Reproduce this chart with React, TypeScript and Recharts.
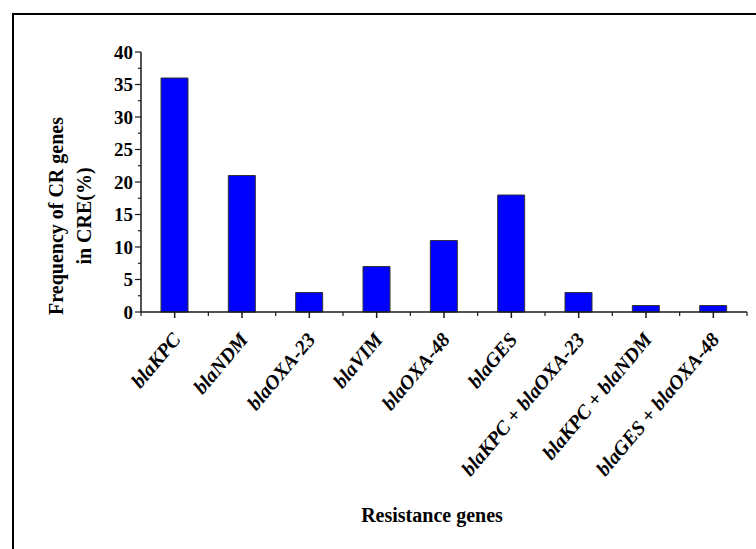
import { BarChart, Bar, XAxis, YAxis } from "recharts";

const genes = [
  "blaKPC",
  "blaNDM",
  "blaOXA-23",
  "blaVIM",
  "blaOXA-48",
  "blaGES",
  "blaKPC + blaOXA-23",
  "blaKPC + blaNDM",
  "blaGES + blaOXA-48",
];
const frequency = [36, 21, 3, 7, 11, 18, 3, 1, 1];
const yTicks = [0, 2.5, 5, 7.5, 10, 12.5, 15, 17.5, 20, 22.5, 25, 27.5, 30, 32.5, 35, 37.5, 40];

const data = genes.map((gene, i) => ({ gene, value: frequency[i] }));

const FONT = '"Liberation Serif", "Times New Roman", serif';
const INK = "#1a1a1a";

function GeneTick(props: any) {
  const { x, y, payload, index } = props;
  const half = payload?.offset ?? 33.7;
  return (
    <g>
      <line x1={x} y1={y} x2={x} y2={y + 6} stroke={INK} strokeWidth={1.5} />
      <line x1={x + half} y1={y} x2={x + half} y2={y + 4} stroke={INK} strokeWidth={1.2} />
      {index === 0 && (
        <line x1={x - half} y1={y} x2={x - half} y2={y + 4} stroke={INK} strokeWidth={1.2} />
      )}
      <text
        transform={`translate(${x + 7},${y + 28}) rotate(-50)`}
        textAnchor="end"
        fontFamily={FONT}
        fontWeight="bold"
        fontStyle="italic"
        fontSize={20}
        fill="#000"
      >
        {payload.value}
      </text>
    </g>
  );
}

function FreqTick(props: any) {
  const { x, y, payload } = props;
  const major = payload.value % 5 === 0;
  return (
    <g>
      <line x1={x} y1={y} x2={x - (major ? 6 : 3)} y2={y} stroke={INK} strokeWidth={1.2} />
      {major && (
        <text
          x={x - 8}
          y={y}
          dy="0.35em"
          textAnchor="end"
          fontFamily={FONT}
          fontWeight="bold"
          fontSize={19}
          fill="#000"
        >
          {payload.value}
        </text>
      )}
    </g>
  );
}

function YTitle(props: any) {
  const { viewBox } = props;
  const cy = viewBox.y + viewBox.height / 2 + 34;
  return (
    <text
      transform={`translate(${viewBox.x + 63},${cy}) rotate(-90)`}
      textAnchor="middle"
      fontFamily={FONT}
      fontWeight="bold"
      fontSize={20}
      fill="#000"
    >
      <tspan x={0} dy={0}>Frequency of CR genes</tspan>
      <tspan x={0} dy={28}>in CRE(%)</tspan>
    </text>
  );
}

function XTitle(props: any) {
  const { viewBox } = props;
  return (
    <text
      x={viewBox.x + viewBox.width / 2 - 12}
      y={viewBox.y + 210}
      textAnchor="middle"
      fontFamily={FONT}
      fontWeight="bold"
      fontSize={20}
      fill="#000"
    >
      Resistance genes
    </text>
  );
}

export default function App() {
  return (
    <div
      style={{
        position: "absolute",
        left: 0,
        top: 0,
        width: 756,
        height: 549,
        overflow: "hidden",
        background: "#fff",
      }}
    >
      <div
        style={{
          position: "absolute",
          left: 12,
          top: 13,
          width: 800,
          height: 600,
          borderTop: "2px solid #000",
          borderLeft: "2px solid #000",
        }}
      />
      <BarChart
        width={756}
        height={549}
        data={data}
        margin={{ top: 52, right: 9, left: 0, bottom: 0 }}
        style={{ position: "absolute", left: 0, top: 0 }}
      >
        <XAxis
          dataKey="gene"
          interval={0}
          height={237}
          tickSize={0}
          tickMargin={0}
          tickLine={false}
          axisLine={{ stroke: INK, strokeWidth: 1.5 }}
          tick={<GeneTick />}
          label={<XTitle />}
        />
        <YAxis
          domain={[0, 40]}
          ticks={yTicks}
          interval={0}
          width={141}
          tickSize={0}
          tickMargin={0}
          tickLine={false}
          axisLine={{ stroke: INK, strokeWidth: 1.5 }}
          tick={<FreqTick />}
          label={<YTitle />}
        />
        <Bar
          dataKey="value"
          fill="#0000ff"
          stroke="#333"
          strokeWidth={1}
          barSize={27}
          isAnimationActive={false}
        />
      </BarChart>
    </div>
  );
}
